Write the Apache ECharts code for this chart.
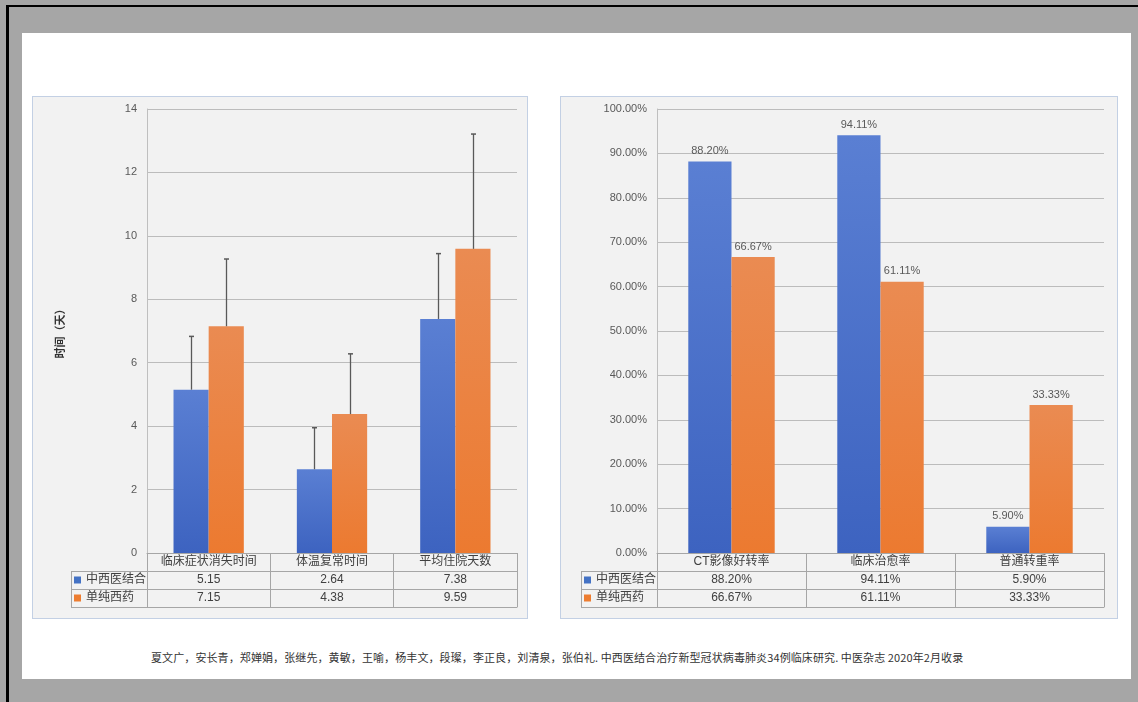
<!DOCTYPE html>
<html><head><meta charset="utf-8">
<script src="https://cdn.jsdelivr.net/npm/echarts@6/dist/echarts.min.js"></script>
<style>
html,body{margin:0;padding:0;background:#a6a6a6;width:1138px;height:702px;overflow:hidden;position:relative;}
.abs{position:absolute;box-sizing:border-box;}
#c{position:absolute;left:0;top:0;width:1138px;height:702px;}
#caption{position:absolute;left:151px;top:649px;font:11px 'Noto Sans CJK SC','Liberation Sans',sans-serif;color:#333;white-space:nowrap;letter-spacing:0.1px;}
</style>
</head><body>
<div class="abs" style="left:6px;top:5px;width:1132px;height:2px;background:#000"></div>
<div class="abs" style="left:6px;top:5px;width:3px;height:697px;background:#000"></div>
<div class="abs" style="left:22px;top:33px;width:1109px;height:646px;background:#fff"></div>
<div class="abs" style="left:32px;top:96px;width:496px;height:523px;background:#f2f2f2;border:1px solid #c3d0e4"></div>
<div class="abs" style="left:560px;top:96px;width:558px;height:523px;background:#f2f2f2;border:1px solid #c3d0e4"></div>
<div class="abs" style="left:71px;top:571px;width:77px;height:37px;border:1px solid #a6a6a6"></div>
<div class="abs" style="left:71px;top:589px;width:77px;height:1px;background:#a6a6a6"></div>
<div class="abs" style="left:581px;top:571px;width:77px;height:37px;border:1px solid #a6a6a6"></div>
<div class="abs" style="left:581px;top:589px;width:77px;height:1px;background:#a6a6a6"></div>
<div id="caption"></div>
<div id="c"></div>
<script>
const seriesNames = ['中西医结合', '单纯西药'];
const leftCategories = ['临床症状消失时间', '体温复常时间', '平均住院天数'];
const leftIntegrated = [5.15, 2.64, 7.38];
const leftWestern = [7.15, 4.38, 9.59];
const leftIntegratedSD = [1.68, 1.31, 2.06];
const leftWesternSD = [2.12, 1.90, 3.62];
const leftAxisName = '时间（天）';
const rightCategories = ['CT影像好转率', '临床治愈率', '普通转重率'];
const rightIntegrated = [88.20, 94.11, 5.90];
const rightWestern = [66.67, 61.11, 33.33];
const captionText = '夏文广，安长青，郑婵娟，张继先，黄敏，王喻，杨丰文，段璨，李正良，刘清泉，张伯礼. 中西医结合治疗新型冠状病毒肺炎34例临床研究. 中医杂志 2020年2月收录';

document.getElementById('caption').textContent = captionText;

const FONT = "'Liberation Sans','Noto Sans CJK SC',sans-serif";
const BLUE = '#4472c4', ORANGE = '#ed7d31';
const blueGrad = new echarts.graphic.LinearGradient(0,0,0,1,[{offset:0,color:'#5a7fd3'},{offset:1,color:'#3d63c0'}]);
const orangeGrad = new echarts.graphic.LinearGradient(0,0,0,1,[{offset:0,color:'#ea8b52'},{offset:1,color:'#ec7a30'}]);
const LEFT_GAP = 0.43, RIGHT_GAP = 0.42;
const tableLine = '#a6a6a6';

function tableAxes(gridIndex, cats, v1, v2, fmt) {
  const base = {
    type: 'category', gridIndex: gridIndex, position: 'bottom',
    axisLine: {show: true, lineStyle: {color: tableLine, width: 1}},
    axisTick: {show: false},
    axisLabel: {margin: 3, fontSize: 12, color: '#404040', fontFamily: FONT, interval: 0},
    splitLine: {show: false}
  };
  return [
    Object.assign({}, base, {data: cats, axisTick: {show: true, interval: 0, length: 54, lineStyle: {color: tableLine}}}),
    Object.assign({}, base, {data: v1.map(fmt), offset: 18}),
    Object.assign({}, base, {data: v2.map(fmt), offset: 36}),
    Object.assign({}, base, {data: cats, offset: 54, axisLabel: {show: false}})
  ];
}

function errorSeries(name, means, sds, side, gap) {
  return {
    type: 'custom', name: name + '标准差', xAxisIndex: 0, yAxisIndex: 0, z: 5, silent: true,
    data: means.map((m, i) => [i, m, m + sds[i]]),
    renderItem(params, api) {
      const i = api.value(0);
      const band = api.size([1, 0])[0];
      const bw = band * (1 - gap) / 2;
      const p0 = api.coord([i, api.value(1)]);
      const p1 = api.coord([i, api.value(2)]);
      const x = Math.round(p0[0] + side * bw / 2) + 0.5;
      return {type: 'group', children: [
        {type: 'line', shape: {x1: x, y1: p0[1], x2: x, y2: p1[1]}, style: {stroke: '#595959', lineWidth: 1.3}},
        {type: 'line', shape: {x1: x - 2.5, y1: p1[1], x2: x + 2.5, y2: p1[1]}, style: {stroke: '#595959', lineWidth: 1.5}}
      ]};
    }
  };
}

const yCommon = {
  type: 'value', min: 0,
  axisLine: {show: true, lineStyle: {color: '#bfbfbf'}},
  axisTick: {show: false},
  splitLine: {lineStyle: {color: '#bcbcbc', width: 1}},
  axisLabel: {margin: 10, fontSize: 11, color: '#595959', fontFamily: FONT}
};

const pctFmt = v => v.toFixed(2) + '%';
const xAxes = tableAxes(0, leftCategories, leftIntegrated, leftWestern, v => v.toFixed(2))
  .concat(tableAxes(1, rightCategories, rightIntegrated, rightWestern, pctFmt));

const legendBase = {
  orient: 'vertical', top: 571, padding: 0, itemGap: 0, itemWidth: 7, itemHeight: 7,
  icon: 'rect', selectedMode: false,
  textStyle: {fontSize: 12, lineHeight: 18, color: '#404040', fontFamily: FONT},
  data: [{name: seriesNames[0], itemStyle: {color: BLUE}}, {name: seriesNames[1], itemStyle: {color: ORANGE}}]
};

const option = {
  animation: false,
  backgroundColor: 'transparent',
  textStyle: {fontFamily: FONT},
  grid: [
    {left: 147, top: 109, width: 370, height: 444},
    {left: 657, top: 109, width: 447, height: 444}
  ],
  legend: [
    Object.assign({}, legendBase, {left: 74}),
    Object.assign({}, legendBase, {left: 584})
  ],
  xAxis: xAxes,
  yAxis: [
    Object.assign({}, yCommon, {gridIndex: 0, max: 14, interval: 2,
      name: leftAxisName, nameLocation: 'middle', nameGap: 82,
      nameTextStyle: {fontSize: 11, fontWeight: 'bold', color: '#333', fontFamily: "'Noto Sans CJK SC',sans-serif"}}),
    Object.assign({}, yCommon, {gridIndex: 1, max: 100, interval: 10,
      axisLabel: Object.assign({}, yCommon.axisLabel, {formatter: v => v.toFixed(2) + '%'})})
  ],
  series: [
    {type: 'bar', name: seriesNames[0], xAxisIndex: 0, yAxisIndex: 0, data: leftIntegrated,
      barGap: 0, barCategoryGap: (LEFT_GAP * 100) + '%', itemStyle: {color: blueGrad}},
    {type: 'bar', name: seriesNames[1], xAxisIndex: 0, yAxisIndex: 0, data: leftWestern,
      barGap: 0, barCategoryGap: (LEFT_GAP * 100) + '%', itemStyle: {color: orangeGrad}},
    errorSeries(seriesNames[0], leftIntegrated, leftIntegratedSD, -1, LEFT_GAP),
    errorSeries(seriesNames[1], leftWestern, leftWesternSD, 1, LEFT_GAP),
    {type: 'bar', name: seriesNames[0], xAxisIndex: 4, yAxisIndex: 1, data: rightIntegrated,
      barGap: 0, barCategoryGap: (RIGHT_GAP * 100) + '%', itemStyle: {color: blueGrad},
      label: {show: true, position: 'top', distance: 5, fontSize: 11, color: '#595959', fontFamily: FONT, formatter: p => pctFmt(p.value)}},
    {type: 'bar', name: seriesNames[1], xAxisIndex: 4, yAxisIndex: 1, data: rightWestern,
      barGap: 0, barCategoryGap: (RIGHT_GAP * 100) + '%', itemStyle: {color: orangeGrad},
      label: {show: true, position: 'top', distance: 5, fontSize: 11, color: '#595959', fontFamily: FONT, formatter: p => pctFmt(p.value)}}
  ]
};

const chart = echarts.init(document.getElementById('c'), null, {renderer: 'canvas'});
chart.setOption(option);
</script>
</body></html>
